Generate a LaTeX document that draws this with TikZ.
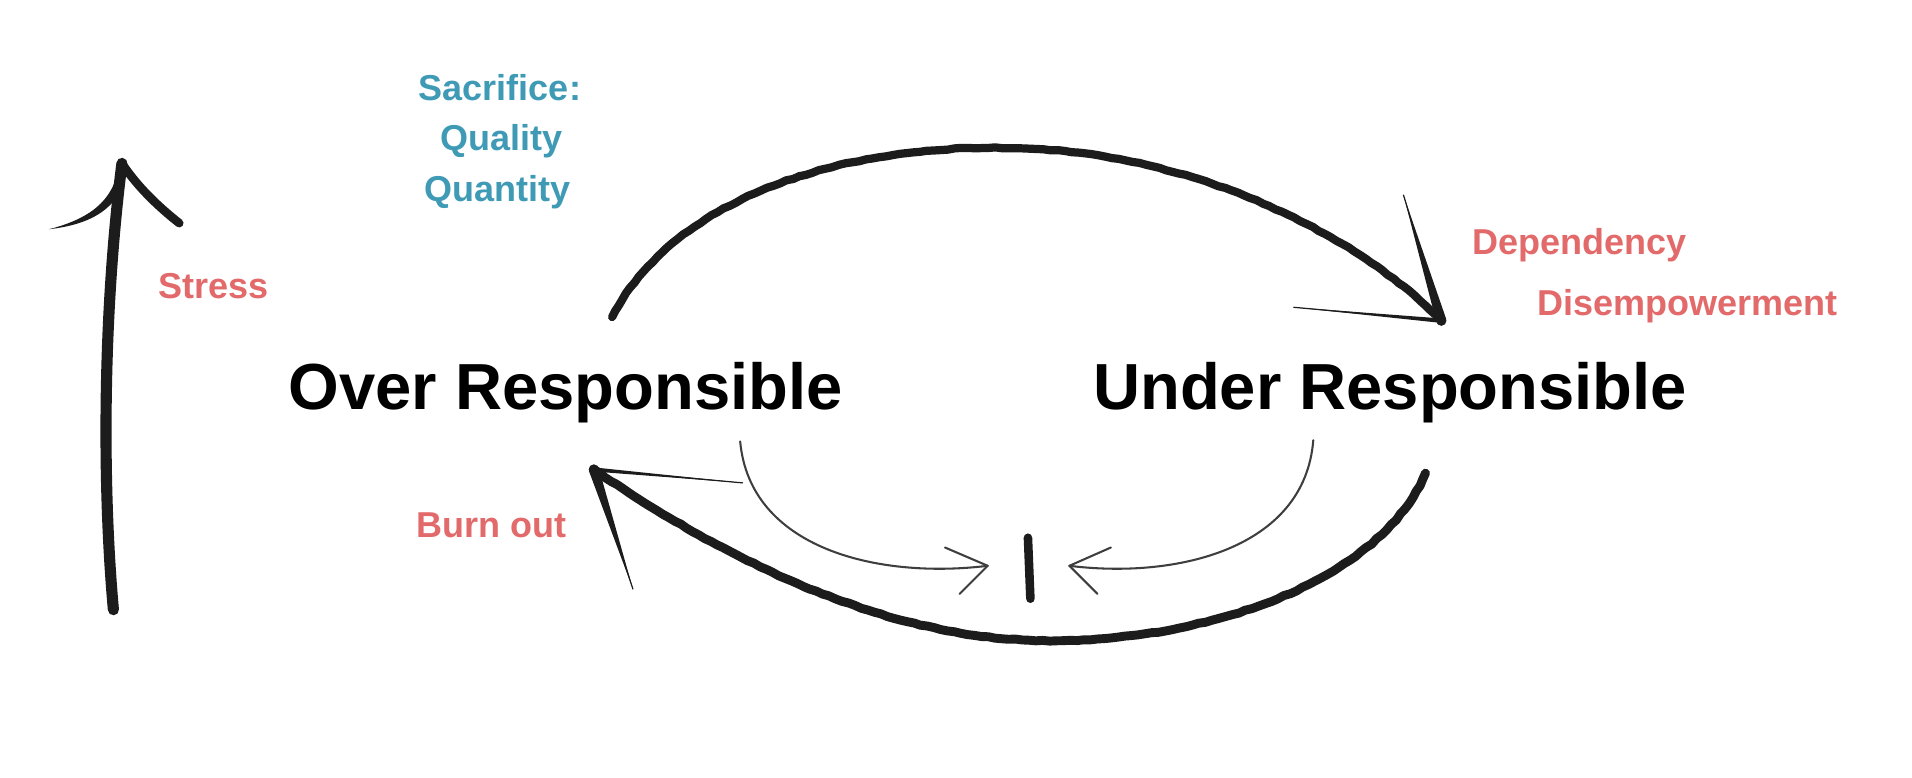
\documentclass[tikz,border=0pt]{standalone}
\usepackage{fontspec}
\setmainfont{Liberation Sans}
\usetikzlibrary{decorations.pathmorphing,calc}
\definecolor{tealtxt}{HTML}{3E9AB5}
\definecolor{redtxt}{HTML}{E36A6A}
\definecolor{ink}{HTML}{1C1C1C}
% tapered barb: from #1 (wide end) to #2 (thin end), half width #3
\newcommand{\mybarb}[3]{%
  \fill[ink] ($(#1)!#3!90:(#2)$) -- (#2) -- ($(#1)!#3!-90:(#2)$) -- cycle;
  \fill[ink] (#1) circle[radius=#3];
  \draw[ink, line width=0.7pt, line cap=round] (#1) -- (#2);}
\begin{document}
\begin{tikzpicture}[x=0.025cm,y=-0.025cm,
  mainlbl/.style={font=\fontsize{38}{44}\selectfont\bfseries, text=black, inner sep=0pt, anchor=base},
  sidelbl/.style={font=\fontsize{21}{25}\selectfont\bfseries, inner sep=0pt, anchor=base},
  rough/.style={decorate, decoration={random steps, segment length=4pt, amplitude=0.3pt}},
  bigstroke/.style={draw=ink, line width=#1, line cap=round, line join=round},
  thinstroke/.style={draw=ink!85, line width=1.2pt, line cap=round, line join=round}]
\pgfmathsetseed{7}
\fill[white] (0,0) rectangle (1568,638);
\useasboundingbox (0,0) rectangle (1568,638);

% texts
\node[mainlbl] (over) at (464,336) {Over Responsible};
\node[mainlbl] (under) at (1140,336) {Under Responsible};
\node[sidelbl, text=tealtxt] (sac) at (410,82.5) {Sacrifice:};
\node[sidelbl, text=tealtxt] (qual) at (411,123.5) {Quality};
\node[sidelbl, text=tealtxt] (quan) at (408,165.5) {Quantity};
\node[sidelbl, text=redtxt] (stress) at (175,244.5) {Stress};
\node[sidelbl, text=redtxt] (burn) at (403,440.5) {Burn out};
\node[sidelbl, text=redtxt] (dep) at (1295,208.5) {Dependency};
\node[sidelbl, text=redtxt] (dis) at (1384,258.5) {Disempowerment};

% coordinates
\coordinate (sb) at (93,500);
\coordinate (st) at (100,134);
\coordinate (tA) at (502,260);
\coordinate (tB) at (1182,263);
\coordinate (bA) at (1169,388);
\coordinate (bB) at (487,385);
\coordinate (lA) at (607,362);
\coordinate (lB) at (810,464);
\coordinate (rA) at (1077,361);
\coordinate (rB) at (877,464);
\coordinate (barT) at (843,441);
\coordinate (barB) at (845,491);

% stress arrow
\draw[bigstroke=6.5pt] (sb) .. controls (84,400) and (84,260) .. (st);
\fill[ink] (97,136) .. controls (94,165) and (72,180) .. (40,188)
   .. controls (76,184) and (99,170) .. (104,140) -- cycle;
\draw[ink, line width=5pt, line cap=round] (st) .. controls (112,152) and (128,168) .. (147,183);

% top arc
\draw[bigstroke=4.8pt, rough] (tA) .. controls (560,150) and (720,115) .. (845,122)
   .. controls (980,128) and (1110,190) .. (tB);
\coordinate (tbarb1) at (1151,160);
\coordinate (tbarb2) at (1061,252);
\mybarb{tB}{tbarb1}{3pt}
\mybarb{tB}{tbarb2}{1.3pt}

% bottom arc
\draw[bigstroke=5.2pt, rough] (bA) .. controls (1130,480) and (980,530) .. (844,525)
   .. controls (700,520) and (560,435) .. (bB);
\coordinate (bbarb1) at (609,396);
\coordinate (bbarb2) at (519,483);
\mybarb{bB}{bbarb1}{1.2pt}
\mybarb{bB}{bbarb2}{3pt}

% thin arcs
\draw[thinstroke] (lA) .. controls (615,450) and (720,475) .. (lB);
\draw[thinstroke] (lB) -- (775,449);
\draw[thinstroke] (lB) -- (787,487);
\draw[thinstroke] (rA) .. controls (1070,450) and (965,475) .. (rB);
\draw[thinstroke] (rB) -- (911,449);
\draw[thinstroke] (rB) -- (900,487);

% bar
\draw[ink, line width=5pt, line cap=round] (barT) -- (barB);
\end{tikzpicture}
\end{document}
